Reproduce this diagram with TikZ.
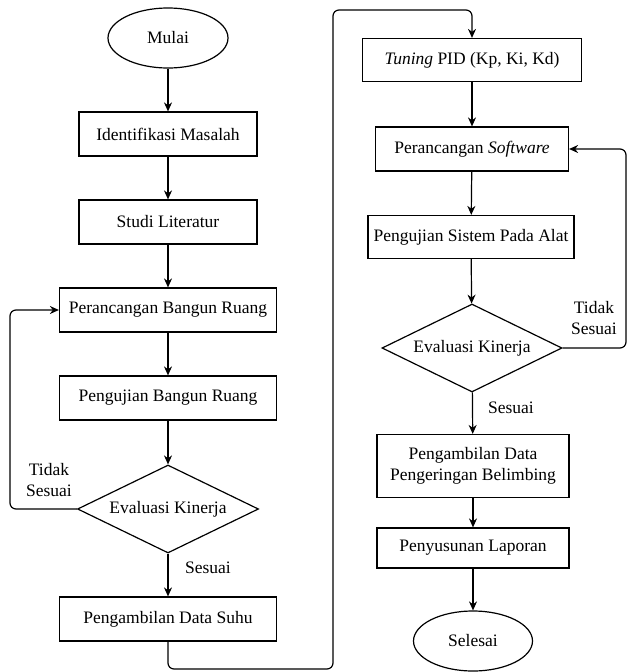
\documentclass[tikz,border=0pt]{standalone}
\usepackage{fontspec}
\setmainfont{LiberationSerif}[ItalicFont=LiberationSerif-Italic, BoldFont=LiberationSerif-Bold]
\usetikzlibrary{shapes.geometric, arrows.meta}

\begin{document}
\begin{tikzpicture}[
    x=1pt, y=-1pt,
    every node/.style={font=\rmfamily\fontsize{17.5}{20.5}\selectfont},
    proses/.style={rectangle, draw=black, line width=1.2pt, minimum height=44pt, align=center},
    terminal/.style={ellipse, draw=black, line width=1.2pt, minimum width=120pt, minimum height=60pt},
    keputusan/.style={diamond, aspect=2.06, draw=black, line width=1.2pt, minimum width=181pt, minimum height=88pt, inner sep=0pt},
    ket/.style={align=center, inner sep=0pt},
    panah/.style={-{Stealth[length=9pt, width=8pt]}, line width=1.2pt}
]
\useasboundingbox (0,0) rectangle (628,672);

% Kolom kiri
\node[terminal] (mulai) at (168,38) {Mulai};
\node[proses, minimum width=178pt] (identifikasi) at (168,134) {Identifikasi Masalah};
\node[proses, minimum width=178pt] (studi) at (168,222) {Studi Literatur};
\node[proses, minimum width=217pt] (bangun) at (168,310) {Perancangan Bangun Ruang};
\node[proses, minimum width=217pt] (ujibangun) at (168,398) {Pengujian Bangun Ruang};
\node[keputusan] (evaluasi1) at (168,509) {Evaluasi Kinerja};
\node[proses, minimum width=217pt] (suhu) at (168,619) {Pengambilan Data Suhu};

% Kolom kanan
\node[proses, minimum width=219pt, minimum height=43pt] (tuning) at (472,60) {\textit{Tuning} PID (Kp, Ki, Kd)};
\node[proses, minimum width=193pt] (software) at (472,149) {Perancangan \textit{Software}};
\node[proses, minimum width=206pt, minimum height=43pt] (ujisistem) at (471,237) {Pengujian Sistem Pada Alat};
\node[keputusan, minimum width=180pt] (evaluasi2) at (472,348) {Evaluasi Kinerja};
\node[proses, minimum width=192pt, minimum height=63pt] (belimbing) at (473,466) {Pengambilan Data\\Pengeringan Belimbing};
\node[proses, minimum width=192pt, minimum height=40pt] (laporan) at (473,548) {Penyusunan Laporan};
\node[terminal, minimum width=119pt] (selesai) at (473,641) {Selesai};

% Keterangan
\node[ket] (tidak1) at (49,480) {Tidak\\Sesuai};
\node[ket] (sesuai1) at (208,568) {Sesuai};
\node[ket] (tidak2) at (594,318) {Tidak\\Sesuai};
\node[ket] (sesuai2) at (511,408) {Sesuai};

% Titik belok
\coordinate (kiri) at (10,400);
\coordinate (bawah) at (333,669);
\coordinate (atas) at (333,10);
\coordinate (kanan) at (626,250);

% Panah
\draw[panah] (mulai) -- (identifikasi);
\draw[panah] (identifikasi) -- (studi);
\draw[panah] (studi) -- (bangun);
\draw[panah] (bangun) -- (ujibangun);
\draw[panah] (ujibangun) -- (evaluasi1);
\draw[panah] (evaluasi1) -- (suhu);
\draw[panah, rounded corners=6pt] (evaluasi1.west) -| (kiri) |- (bangun.west);
\draw[panah, rounded corners=6pt] (suhu.south) |- (bawah) -- (atas) -| (tuning.north);
\draw[panah] (tuning) -- (software);
\draw[panah] (software) -- (ujisistem);
\draw[panah] (ujisistem) -- (evaluasi2);
\draw[panah, rounded corners=6pt] (evaluasi2.east) -| (kanan) |- (software.east);
\draw[panah] (evaluasi2) -- (belimbing);
\draw[panah] (belimbing) -- (laporan);
\draw[panah] (laporan) -- (selesai);

\end{tikzpicture}
\end{document}
